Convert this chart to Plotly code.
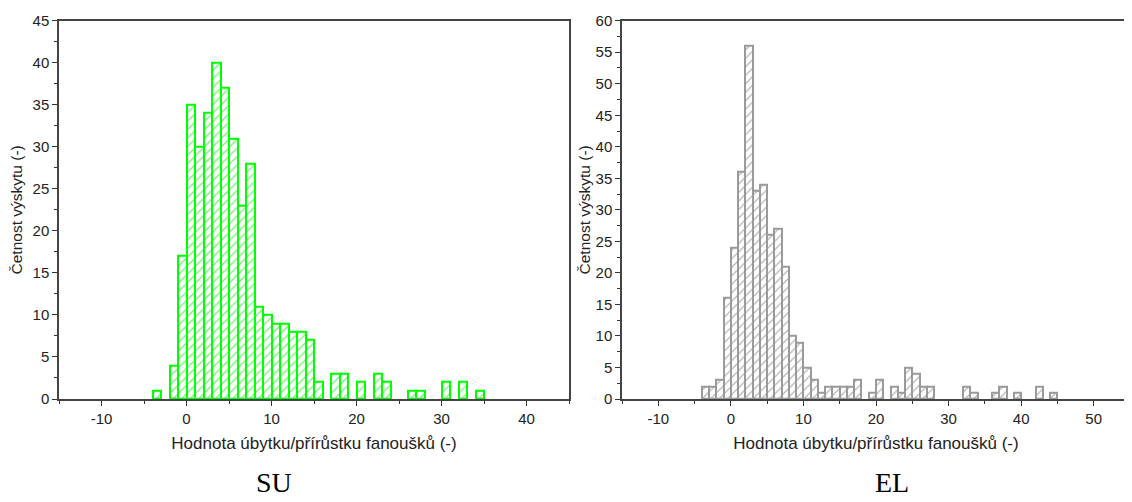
import plotly.graph_objects as go

# ---- data (bin left edges, bin width = 1) ----
su_bins = list(range(-4, 35))
su_counts = [1, 0, 4, 17, 35, 30, 34, 40, 37, 31, 23, 28, 11, 10, 9, 9, 8, 8, 7, 2,
             0, 3, 3, 0, 2, 0, 3, 2, 0, 0, 1, 1, 0, 0, 2, 0, 2, 0, 1]

el_bins = list(range(-4, 45))
el_counts = [2, 2, 3, 16, 24, 36, 56, 33, 34, 26, 27, 21, 10, 9, 5, 3, 1, 2, 2, 2,
             2, 3, 0, 1, 3, 0, 2, 1, 5, 4, 2, 2, 0, 0, 0, 0, 2, 1, 0, 0,
             1, 2, 0, 1, 0, 0, 2, 0, 1]

su_xticks = [-10, 0, 10, 20, 30, 40]
su_xlabels = ["-10", "0", "10", "20", "30", "40"]
el_xticks = [-10, 0, 10, 20, 30, 40, 50]
el_xlabels = ["-10", "0", "10", "20", "30", "40", "50"]

x_title = "Hodnota úbytku/přírůstku fanoušků (-)"
y_title = "Četnost výskytu (-)"
captions = ["SU", "EL"]

# page body has an 8px margin -> figure drawn from (8, 8)
OFF = 8
W, H = 1132 - OFF, 502 - OFF
FONT = "Liberation Sans, Arial, sans-serif"


def px_x(v):
    return (v - OFF) / W


def px_y(v):
    return 1 - (v - OFF) / H


def nz(bins, counts):
    xs = [b + 0.5 for b, c in zip(bins, counts) if c > 0]
    ys = [c for c in counts if c > 0]
    return xs, ys


fig = go.Figure()

x1, y1 = nz(su_bins, su_counts)
fig.add_trace(go.Bar(
    x=x1, y=y1, width=1, xaxis="x", yaxis="y",
    marker=dict(color="white", line=dict(color="#00ff00", width=2),
                pattern=dict(shape="/", fgcolor="#6cf56c", bgcolor="white",
                             size=6, solidity=0.2, fillmode="replace")),
    hoverinfo="x+y"))

x2, y2 = nz(el_bins, el_counts)
fig.add_trace(go.Bar(
    x=x2, y=y2, width=1, xaxis="x2", yaxis="y2",
    marker=dict(color="white", line=dict(color="#9a9a9a", width=2),
                pattern=dict(shape="/", fgcolor="#b4b4b4", bgcolor="white",
                             size=6, solidity=0.2, fillmode="replace")),
    hoverinfo="x+y"))

ydom = [px_y(399), px_y(20.7)]


def xax(dom, rng, anchor, tv, tt):
    return dict(domain=dom, range=rng, anchor=anchor,
                tickmode="array", tickvals=tv, ticktext=tt,
                ticks="outside", ticklen=5, tickwidth=1.2, tickcolor="#333",
                minor=dict(ticks="outside", ticklen=3, tick0=0, dtick=5,
                           tickcolor="#333", showgrid=False),
                showline=True, mirror=True, linecolor="#444", linewidth=1.5,
                showgrid=False, zeroline=False, automargin=False,
                tickfont=dict(family=FONT, size=15, color="#222"),
                title=dict(text=x_title, standoff=11,
                           font=dict(family=FONT, size=17, color="#222")))


def yax(rng, anchor, standoff):
    return dict(domain=ydom, range=rng, anchor=anchor, tick0=0, dtick=5,
                ticks="outside", ticklen=5, tickwidth=1.2, tickcolor="#333",
                minor=dict(ticks="outside", ticklen=3, tick0=0, dtick=2.5,
                           tickcolor="#333", showgrid=False),
                showline=True, mirror=True, linecolor="#444", linewidth=1.5,
                showgrid=False, zeroline=False, automargin=False,
                tickfont=dict(family=FONT, size=15, color="#222"),
                title=dict(text=y_title, standoff=standoff,
                           font=dict(family=FONT, size=15.5, color="#222")))


fig.update_layout(
    width=W, height=H,
    margin=dict(l=0, r=0, t=0, b=0),
    paper_bgcolor="white", plot_bgcolor="white",
    showlegend=False, bargap=0,
    xaxis=xax([px_x(59), px_x(569)], [-15, 45], "y", su_xticks, su_xlabels),
    yaxis=yax([0, 45], "x", 11),
    xaxis2=xax([px_x(622), px_x(1130)], [-15, 55], "y2", el_xticks, el_xlabels),
    yaxis2=yax([0, 60], "x2", 1),
    annotations=[
        dict(text=captions[0], x=px_x(274), y=px_y(482), xref="paper", yref="paper",
             showarrow=False, xanchor="center", yanchor="middle",
             font=dict(family="Liberation Serif, Times New Roman, serif", size=28, color="black")),
        dict(text=captions[1], x=px_x(892), y=px_y(482), xref="paper", yref="paper",
             showarrow=False, xanchor="center", yanchor="middle",
             font=dict(family="Liberation Serif, Times New Roman, serif", size=28, color="black")),
    ],
)

fig.write_html("out.html")
